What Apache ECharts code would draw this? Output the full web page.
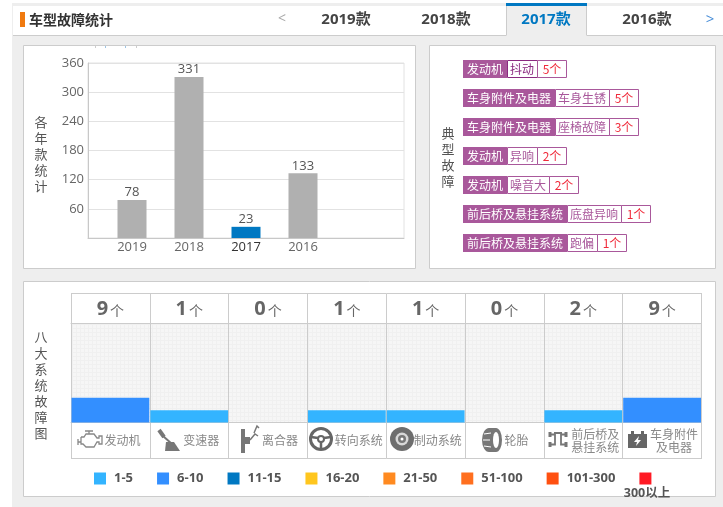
<!DOCTYPE html>
<html lang="zh">
<head>
  <meta charset="UTF-8">
  <title>车型故障统计</title>
  <script src="https://cdn.jsdelivr.net/npm/echarts@6/dist/echarts.min.js"></script>
  <style>
    html, body { margin: 0; padding: 0; background: #fff; }
    #main { width: 723px; height: 507px; }
  </style>
</head>
<body>
  <div id="main"></div>
  <script>
    const FONT = '"Open Sans", "Noto Sans CJK SC", sans-serif';
    const CJK = '"Noto Sans CJK SC", sans-serif';

    // 年款统计
    const years = ['2019', '2018', '2017', '2016'];
    const yearCounts = [78, 331, 23, 133];
    const activeYear = '2017';
    const yTicks = { min: 0, max: 360, interval: 60 };

    // 顶部标签
    const tabs = ['2019款', '2018款', '2017款', '2016款'];

    // 典型故障
    const faultSystems = ['发动机', '车身附件及电器', '车身附件及电器', '发动机', '发动机', '前后桥及悬挂系统', '前后桥及悬挂系统'];
    const faultNames = ['抖动', '车身生锈', '座椅故障', '异响', '噪音大', '底盘异响', '跑偏'];
    const faultCounts = [5, 5, 3, 2, 2, 1, 1];

    // 八大系统
    const systems = ['发动机', '变速器', '离合器', '转向系统', '制动系统', '轮胎', '前后桥及\n悬挂系统', '车身附件\n及电器'];
    const systemCounts = [9, 1, 0, 1, 1, 0, 2, 9];
    const systemLevels = [2, 1, 0, 1, 1, 0, 1, 2];

    // 图例
    const buckets = ['1-5', '6-10', '11-15', '16-20', '21-50', '51-100', '101-300', '300以上'];
    const bucketColors = ['#33b4ff', '#338fff', '#0078c2', '#ffc61e', '#ff8a20', '#ff6f1f', '#ff5010', '#ff1a24'];

    const PURPLE = '#a9589b';
    const LINE = '#cccccc';
    const ICON = '#777777';

    // 柱状区的点状底纹
    const tile = document.createElement('canvas');
    tile.width = 4;
    tile.height = 4;
    const tc = tile.getContext('2d');
    tc.fillStyle = '#f6f6f6';
    tc.fillRect(0, 0, 4, 4);
    tc.fillStyle = '#f0f0f0';
    tc.fillRect(0, 0, 4, 1);
    tc.fillRect(0, 0, 1, 4);

    function rect(x, y, w, h, fill, stroke, z) {
      return {
        type: 'rect', z: z === undefined ? -1 : z, silent: true,
        shape: { x: x, y: y, width: w, height: h },
        style: { fill: fill || 'none', stroke: stroke || 'none', lineWidth: 1 }
      };
    }
    function text(x, y, str, fill, size, weight, align, family, lineHeight) {
      return {
        type: 'text', x: x, y: y, z: 10, silent: true,
        style: {
          text: str, fill: fill, fontSize: size, fontWeight: weight || 'normal',
          fontFamily: family || FONT, align: align || 'center', verticalAlign: 'middle',
          lineHeight: lineHeight
        }
      };
    }
    // graphic 组件没有 path 类型,先注册成自定义形状
    let iconId = 0;
    function path(d, style) {
      const name = 'icon' + (iconId++);
      echarts.graphic.registerShape(name, echarts.graphic.extendPath(d));
      return {
        type: name, z: 10, silent: true,
        style: Object.assign({ fill: 'none', stroke: 'none', lineWidth: 1 }, style)
      };
    }
    function circle(cx, cy, r, style) {
      return {
        type: 'circle', z: 10, silent: true,
        shape: { cx: cx, cy: cy, r: r },
        style: Object.assign({ fill: 'none', stroke: 'none', lineWidth: 1 }, style)
      };
    }

    // 页面框架
    const chrome = [
      rect(12, 3, 711, 504, '#eeeeee', null, -3),
      rect(13, 6, 710, 29, '#ffffff', null, -2),
      rect(506, 3, 81, 3, '#0078c2', null, -1),
      rect(506.5, 6, 80, 30, '#eeeeee', null, -1),
      { type: 'line', z: -1, silent: true, shape: { x1: 13, y1: 35.5, x2: 506, y2: 35.5 }, style: { stroke: LINE } },
      { type: 'line', z: -1, silent: true, shape: { x1: 587, y1: 35.5, x2: 723, y2: 35.5 }, style: { stroke: LINE } },
      { type: 'line', z: -1, silent: true, shape: { x1: 506.5, y1: 6, x2: 506.5, y2: 35.5 }, style: { stroke: LINE } },
      { type: 'line', z: -1, silent: true, shape: { x1: 586.5, y1: 6, x2: 586.5, y2: 35.5 }, style: { stroke: LINE } },
      rect(23.5, 45.5, 392, 223, '#ffffff', LINE),
      rect(429.5, 45.5, 286, 223, '#ffffff', LINE),
      rect(23.5, 281.5, 692, 215, '#ffffff', LINE),
      rect(20, 12, 5, 15, '#f07a10', null, 1),
      text(29, 19.5, '车型故障统计', '#333333', 14, 'bold', 'left', CJK),
      text(282, 19.5, '<', '#aaaaaa', 14, 'normal'),
      text(710, 19.5, '>', '#4a8fd8', 15, 'normal'),
      text(41, 154, '各\n年\n款\n统\n计', '#555555', 13, 'normal', 'center', CJK, 16),
      text(448, 157, '典\n型\n故\n障', '#555555', 13, 'normal', 'center', CJK, 16),
      text(41, 385, '八\n大\n系\n统\n故\n障\n图', '#555555', 13, 'normal', 'center', CJK, 16),
      text(647, 493, buckets[7], '#555555', 12.5, 'bold'),
      { type: 'line', z: 3, silent: true, shape: { x1: 71, y1: 293.5, x2: 702, y2: 293.5 }, style: { stroke: LINE } },
      { type: 'line', z: 3, silent: true, shape: { x1: 71, y1: 458.5, x2: 702, y2: 458.5 }, style: { stroke: LINE } }
    ];
    // 面板顶部被截断的残字
    [[95, '#cccccc'], [105, '#9cc4e4'], [125, '#9cc4e4'], [136, '#cccccc']].forEach(function (m) {
      chrome.push(rect(m[0], 46, 1, 2, m[1], null, 1));
    });
    tabs.forEach(function (t, i) {
      const cx = [346, 446, 546, 647][i];
      const on = t === activeYear + '款';
      chrome.push(text(cx, 20, t, on ? '#0078c2' : '#444444', 15, 'bold'));
    });

    // 典型故障标签
    const tagRows = [60, 89, 118, 147, 176, 205, 234];
    const tags = [];
    faultNames.forEach(function (name, i) {
      const y = tagRows[i];
      const w1 = faultSystems[i].length * 12 + 8;
      const w2 = name.length * 12 + 6;
      const x1 = 463, x2 = x1 + w1, x3 = x2 + w2;
      const dark = i === 0 ? '#8a2a80' : PURPLE;
      tags.push(rect(x1, y, w1, 18, PURPLE, null, 2));
      tags.push(rect(x2 + 0.5, y + 0.5, w2, 17, '#ffffff', dark, 2));
      tags.push(rect(x3 + 0.5, y + 0.5, 29, 17, '#ffffff', PURPLE, 2));
      tags.push(text(x1 + w1 / 2, y + 9, faultSystems[i], '#ffffff', 12, 'normal', 'center', CJK));
      tags.push(text(x2 + w2 / 2, y + 9, name, dark, 12, 'normal', 'center', CJK));
      tags.push(text(x3 + 15, y + 9, faultCounts[i] + '个', '#f02a3a', 12, 'normal', 'center', CJK));
    });

    // 系统图标
    const icons = [
      // 发动机
      path('M78 439V445M78 442H81M81 437H84L86 434H89M85 431H93M89 431V434H94L97 438H99V436H102V444H99V442H97L94 447H86L83 444H81V437', { stroke: '#888888', lineWidth: 1.3 }),
      // 变速器
      path('M159 430L164 437', { stroke: ICON, lineWidth: 4 }),
      path('M163 436L172 444', { stroke: ICON, lineWidth: 2 }),
      path('M166 442H174L180 451H165Z', { fill: ICON }),
      // 离合器
      path('M241 429H245V453H241ZM245 437H250V444H245Z', { fill: ICON }),
      path('M250 440L255 434L258 436M254 433L257 426L259 428', { stroke: ICON, lineWidth: 1.5 }),
      // 转向系统
      circle(321, 439, 10.5, { stroke: '#666666', lineWidth: 3 }),
      circle(321, 439, 3, { stroke: '#666666', lineWidth: 2 }),
      path('M311 437L318 438M324 438L331 437M321 442V449', { stroke: '#666666', lineWidth: 2.5 }),
      // 制动系统
      circle(402, 439, 12, { fill: '#6e6e6e' }),
      circle(402, 439, 6.5, { fill: '#d8d8d8' }),
      circle(402, 439, 4, { fill: '#777777' }),
      circle(402, 439, 1.5, { fill: '#ffffff' }),
      // 轮胎
      path('M489 428H496A6 12 0 0 1 496 452H489A7 12 0 0 1 489 428Z', { fill: ICON }),
      path('M496 432A3 8 0 0 1 496 448A3 8 0 0 1 496 432Z', { fill: '#ffffff' }),
      path('M484 434L491 433M483 440L490 440M484 446L491 447', { stroke: '#ffffff', lineWidth: 1 }),
      // 前后桥及悬挂系统
      path('M550 432V437M566 432V437M550 442V447M566 442V447', { stroke: ICON, lineWidth: 3 }),
      path('M550 434.5H555V444.5H550M566 434.5H561V444.5H566M554 433H562', { stroke: ICON, lineWidth: 1.8 }),
      // 车身附件及电器
      path('M628 434H647V448H628ZM631 431H634V434H631ZM641 431H644V434H641Z', { fill: '#666666' }),
      path('M639 436L634 442H637L636 446L641 440H638Z', { fill: '#ffffff' })
    ];

    const chart = echarts.init(document.getElementById('main'));
    const bucketSeries = buckets.map(function (name, i) {
      return {
        name: name,
        type: 'bar',
        xAxisIndex: 2,
        yAxisIndex: 2,
        stack: 'level',
        barWidth: 77.8,
        itemStyle: { color: bucketColors[i] },
        data: systemLevels.map(function (l) { return l === i + 1 ? l : '-'; })
      };
    });

    chart.setOption({
      animation: false,
      backgroundColor: '#ffffff',
      textStyle: { fontFamily: FONT },
      graphic: { elements: chrome.concat(tags, icons) },
      legend: {
        left: 94, top: 472, padding: 0,
        itemWidth: 12, itemHeight: 12, itemGap: 24,
        icon: 'rect',
        selectedMode: false,
        data: buckets,
        formatter: function (name) { return name === buckets[7] ? '' : name; },
        textStyle: { color: '#555555', fontSize: 13, fontWeight: 'bold', fontFamily: FONT, padding: [0, 0, 0, 3] }
      },
      grid: [
        { left: 88, top: 63, width: 316, height: 175, show: true, backgroundColor: 'transparent', borderColor: '#e2e2e2', borderWidth: 1, z: 0 },
        { left: 103.5, top: 63, width: 228, height: 175, z: 0 },
        { left: 71, top: 323.5, width: 630.5, height: 99, show: true, borderWidth: 0, backgroundColor: { image: tile, repeat: 'repeat' }, z: 0 }
      ],
      xAxis: [
        {
          type: 'category', gridIndex: 0, data: [''],
          axisLine: { lineStyle: { color: '#c8c8c8' } }, axisTick: { show: false }, axisLabel: { show: false }
        },
        {
          type: 'category', gridIndex: 1, data: years,
          axisLine: { show: false }, axisTick: { show: false },
          axisLabel: {
            fontSize: 13, margin: 3, fontFamily: FONT,
            color: function (v) { return v === activeYear ? '#333333' : '#666666'; }
          }
        },
        {
          type: 'category', gridIndex: 2, position: 'bottom', data: systems,
          axisLine: { lineStyle: { color: LINE } },
          axisTick: { show: true, length: 36, lineStyle: { color: LINE } },
          splitLine: { show: true, lineStyle: { color: LINE } },
          axisLabel: {
            interval: 0, color: '#888888', fontSize: 12, fontFamily: CJK, lineHeight: 13,
            margin: 18, verticalAlign: 'middle', padding: [0, 0, 0, 24]
          }
        },
        {
          type: 'category', gridIndex: 2, position: 'top', data: systemCounts.map(String),
          axisLine: { lineStyle: { color: LINE } },
          axisTick: { show: true, length: 30, lineStyle: { color: LINE } },
          axisLabel: {
            interval: 0, margin: 14, verticalAlign: 'middle',
            formatter: function (v) { return '{n|' + v + '}{u|个}'; },
            rich: {
              n: { fontSize: 20, fontWeight: 'bold', color: '#666666', fontFamily: FONT },
              u: { fontSize: 14, color: '#666666', fontFamily: CJK, padding: [2, 0, 0, 2] }
            }
          }
        }
      ],
      yAxis: [
        {
          type: 'value', gridIndex: 0, min: yTicks.min, max: yTicks.max, interval: yTicks.interval,
          axisLine: { show: true, lineStyle: { color: '#c8c8c8' } }, axisTick: { show: false },
          splitLine: { lineStyle: { color: '#e2e2e2' } },
          axisLabel: {
            color: '#666666', fontSize: 13, margin: 4, fontFamily: FONT, padding: [2, 0, 0, 0],
            formatter: function (v) { return v === 0 ? '' : v; }
          }
        },
        { type: 'value', gridIndex: 1, min: yTicks.min, max: yTicks.max, show: false },
        { type: 'value', gridIndex: 2, min: 0, max: 8, show: false }
      ],
      series: [{
        type: 'bar',
        name: '各年款统计',
        xAxisIndex: 1,
        yAxisIndex: 1,
        barWidth: 29,
        z: 3,
        label: { show: true, position: 'top', distance: 1, fontSize: 13, color: '#555555', fontFamily: FONT },
        data: yearCounts.map(function (v, i) {
          return { value: v, itemStyle: { color: years[i] === activeYear ? '#0078c2' : '#b0b0b0' } };
        })
      }].concat(bucketSeries)
    });
  </script>
</body>
</html>
